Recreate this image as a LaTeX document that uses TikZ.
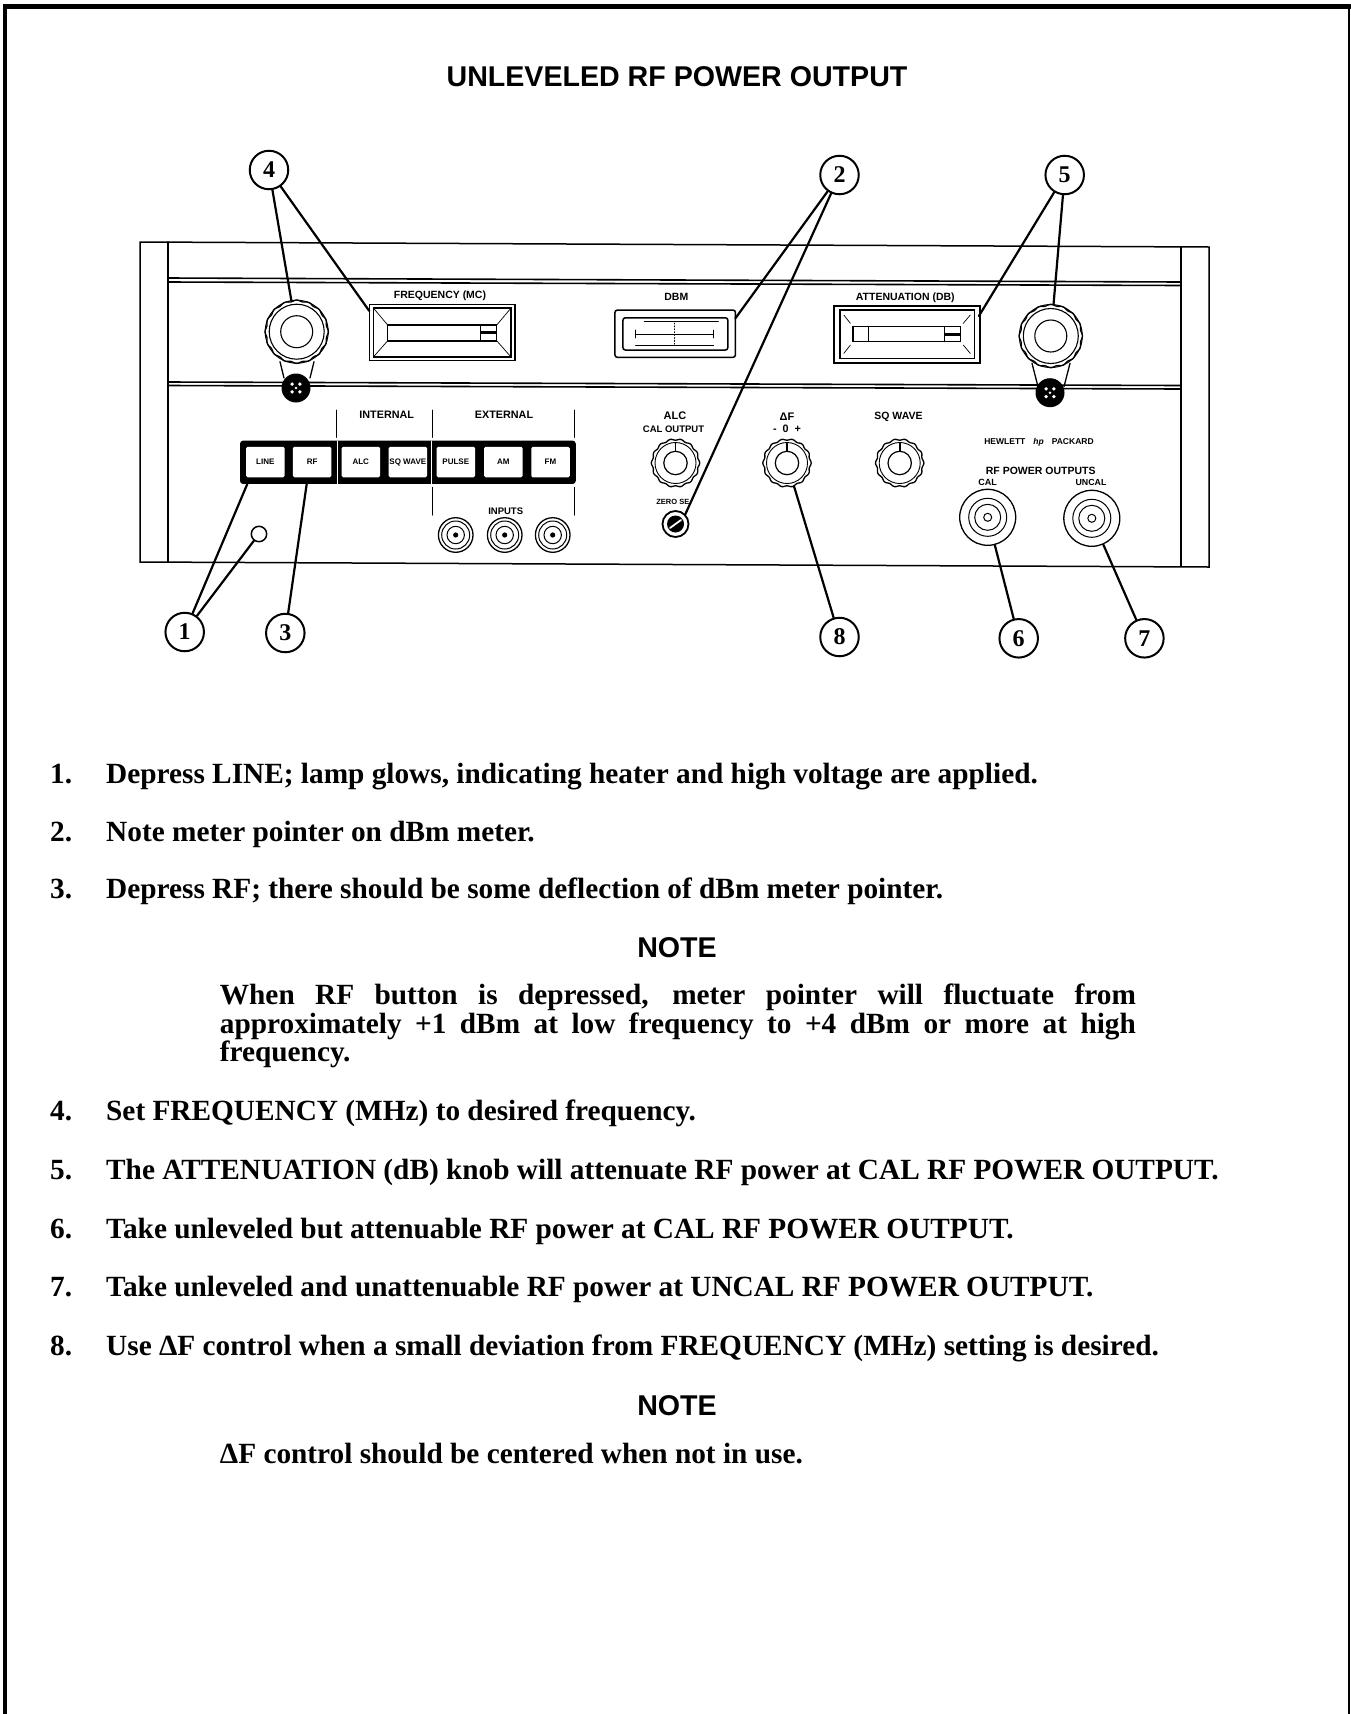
\documentclass[tikz,border=0pt]{standalone}
\usepackage{fontspec}
\setmainfont{Liberation Serif}
\setsansfont{Liberation Sans}
\usetikzlibrary{calc}
\newcommand{\knurl}[4]{\draw[line width=1.3pt] plot[domain=0:357,samples=120,smooth cycle]
  ({#1+(#3+0.7*cos(#4*\x))*cos(\x)},{#2+(#3+0.7*cos(#4*\x))*sin(\x)});}
\newcommand{\lockscrew}[2]{\fill (#1,#2) circle (14.5);
  \foreach \a in {45,135,225,315} \fill[white] (#1,#2) ++(\a:5.5) circle (1.9);
  \fill[white] (#1,#2) circle (1.4);}
\newcommand{\lab}[1]{\sffamily\bfseries\fontsize{#1}{#1}\selectfont}
\tikzset{
  callout/.style={circle, draw, line width=2pt, minimum size=38.5pt, inner sep=0pt, font=\bfseries\fontsize{24}{24}\selectfont},
  leader/.style={line width=2.2pt},
  railline/.style={line width=1.6pt},
  panellabel/.style={inner sep=0pt, font=\lab{10.5}},
  smalllabel/.style={inner sep=0pt, font=\lab{10.8}},
  meterbox/.style={draw, line width=1.5pt, outer sep=0pt, inner sep=0pt},
  pushbtn/.style={fill=white, rounded corners=1.5pt, minimum width=38.5pt, minimum height=30.5pt, inner sep=0pt, font=\lab{8}},
  jack/.style={circle, draw, line width=1.3pt, inner sep=0pt, fill=white},
  stepnum/.style={anchor=base west, inner sep=0pt, font=\bfseries\fontsize{29.3}{29}\selectfont},
  steptext/.style={anchor=base west, inner sep=0pt, font=\bfseries\fontsize{29.3}{29}\selectfont},
  notehead/.style={anchor=base, inner sep=0pt, font=\lab{28.6}}
}
\begin{document}
\begin{tikzpicture}[x=1pt, y=-1pt, line cap=round]
  \useasboundingbox (0,0) rectangle (1350,1714);
  \draw[line width=4.5pt] (5,1714) -- (5,6.5) -- (1350,6.5);
  \draw[line width=1.2pt] (1349,6.5) -- (1349,1714);
  \node[notehead] (title) at (677,86) {UNLEVELED RF POWER OUTPUT};

  % front panel
  \draw[line width=1.5pt] (140,242) -- (1209,247) -- (1209,567) -- (140,562) -- cycle;
  \draw[line width=1.2pt] (168,242) -- (168,562);
  \draw[line width=1.2pt] (1181,247) -- (1181,566);
  \draw[railline] (168,278) -- (1181,282);
  \draw[railline] (168,282) -- (1181,285.5);
  \draw[railline] (168,382) -- (1181,385.5);
  \draw[railline] (168,385.5) -- (1181,389);

  % frequency and attenuation windows
  \node[meterbox, minimum width=145.7pt, minimum height=56pt] (freqouter) at (442.2,332.7) {};
  \node[meterbox, minimum width=137.7pt, minimum height=49pt] (freqinner) at (442.2,332.5) {};
  \node[meterbox, minimum width=109pt, minimum height=15.7pt] (freqwin) at (442.2,332.9) {};
  \foreach \c in {north west, north east, south west, south east}
    \draw[line width=0.7pt] (freqinner.\c) -- (freqwin.\c);
  \draw[line width=1pt] (480,325) -- (480,340.7);
  \fill (480,331) rectangle (496.7,334);
  \node[panellabel] (freqlabel) at (440,295.5) {FREQUENCY (MC)};

  \node[meterbox, minimum width=145.7pt, minimum height=56.7pt] (attouter) at (906.9,334.4) {};
  \node[meterbox, minimum width=134.6pt, minimum height=48.3pt] (attinner) at (907.2,334.2) {};
  \node[meterbox, minimum width=107.4pt, minimum height=15pt] (attwin) at (906.7,334.2) {};
  \foreach \c in {north west, north east, south west, south east}
    \draw[line width=0.7pt] ($(attinner.\c)!.3!(attwin.\c)$) -- ($(attinner.\c)!.8!(attwin.\c)$);
  \draw[line width=1pt] (868.4,326.7) -- (868.4,341.7);
  \draw[line width=1pt] (944.3,326.7) -- (944.3,341.7);
  \fill (944.3,332.5) rectangle (960.4,335.5);
  \node[panellabel] (attlabel) at (905.3,297.3) {ATTENUATION (DB)};

  % dBm meter
  \node[meterbox, rounded corners=2.5pt, minimum width=120.5pt, minimum height=47.3pt] (dbmouter) at (675.2,333.7) {};
  \node[meterbox, rounded corners=2.5pt, minimum width=104.9pt, minimum height=32.3pt] (dbminner) at (675.4,333.9) {};
  \draw[line width=0.9pt] (635.4,334) -- (713.7,334);
  \draw[line width=0.9pt] (635.4,330) -- (635.4,338) (713.7,330) -- (713.7,338);
  \draw[line width=0.5pt] (644,321.7) -- (718.5,321.7) (635.4,345) -- (713.7,345);
  \draw[line width=0.9pt, dotted] (674.3,323) -- (674.3,346);
  \node[panellabel] (dbmlabel) at (676.3,296.7) {DBM};

  % large knobs with their locks
  \draw[line width=1.3pt] (280,361.7) -- (284,378) (314,361.7) -- (310,378);
  \lockscrew{296}{388}
  \node[circle, draw, line width=1pt, fill=white, minimum size=63pt, inner sep=0pt] (knobfreq) at (296.7,331.7) {};
  \knurl{296.7}{331.7}{31}{16}
  \draw[line width=1.1pt] (296.7,331.7) circle (27.5) (296.7,331.7) circle (16);

  \draw[line width=1.3pt] (1032,363.3) -- (1038,386.7) (1070,363.3) -- (1064,386.7);
  \lockscrew{1050}{392.7}
  \node[circle, draw, line width=1pt, fill=white, minimum size=63pt, inner sep=0pt] (knobatt) at (1050.8,336) {};
  \knurl{1050.8}{336}{31}{16}
  \draw[line width=1.1pt] (1050.8,336) circle (27.5) (1050.8,336) circle (16);

  % button strip
  \node[fill=black, rounded corners=3pt, minimum width=335.7pt, minimum height=43.3pt, inner sep=0pt] (strip) at (407.9,462.3) {};
  \foreach \bx/\nm/\txt in {265.3/btnline/LINE, 312.2/btnrf/RF, 360.8/btnalc/ALC, 407.8/btnsq/SQ WAVE, 455.8/btnpulse/PULSE, 503.3/btnam/AM, 550.5/btnfm/FM}
    \node[pushbtn] (\nm) at (\bx,462) {\txt};
  \draw[white, line width=0.9pt] (337.5,441) -- (337.5,484) (431.5,441) -- (431.5,484);
  \foreach \bx in {336,432,574.3}
    \draw[line width=1pt] (\bx,410) -- (\bx,437.3);
  \foreach \bx in {432,574}
    \draw[line width=1pt] (\bx,487.3) -- (\bx,515);
  \node[smalllabel] (internal) at (386.7,414.5) {INTERNAL};
  \node[smalllabel] (external) at (504,415) {EXTERNAL};
  \node[smalllabel, font=\lab{9.5}] (inputs) at (505.7,511) {INPUTS};

  % input jacks and lamp
  \foreach \jx/\nm in {455.7/jacka, 504.7/jackb, 552.7/jackc} {
    \node[jack, minimum size=34.6pt] (\nm) at (\jx,535) {};
    \draw[line width=1pt] (\jx,535) circle (14) (\jx,535) circle (8.7);
    \fill (\jx,535) circle (2.6);
  }
  \node[jack, line width=1.5pt, minimum size=15.4pt] (lamp) at (259,534) {};

  % small knobs
  \foreach \kx/\nm in {675.5/knobalc, 787/knobdf, 899.7/knobsq} {
    \node[circle, minimum size=48pt, inner sep=0pt] (\nm) at (\kx,463) {};
    \knurl{\kx}{463}{23.5}{14}
    \draw[line width=0.9pt] (\kx,463) circle (20.5);
    \draw[line width=1.2pt] (\kx,463) circle (11.7);
    \draw[line width=1.8pt] (\kx,443.5) -- (\kx,451);
  }
  \node[smalllabel, font=\lab{11}] (alclabel) at (675,415.7) {ALC};
  \node[smalllabel, font=\lab{9.5}] (caloutput) at (673.5,429) {CAL OUTPUT};
  \node[smalllabel, font=\lab{11}] (dflabel) at (787,416.7) {ΔF};
  \node[smalllabel] (dfscale) at (787,429) {-\ \ 0\ \ +};
  \node[smalllabel, font=\lab{10.5}] (sqlabel) at (898.5,416.7) {SQ WAVE};
  \node[smalllabel, font=\lab{7.5}] (zerolabel) at (672.8,501.7) {ZERO SE};

  \node[circle, draw, line width=1.8pt, fill=white, minimum size=26pt, inner sep=0pt] (zeroset) at (675.5,524) {};
  \fill (675.5,524) circle (8.5);
  \draw[white, line width=1.8pt] (670,528) -- (681,520);

  % output connectors
  \node[smalllabel, font=\lab{8.5}] (hplabel) at (1039,442.7) {HEWLETT\hspace{8pt}\textit{hp}\hspace{8pt}PACKARD};
  \node[smalllabel, font=\lab{10.5}] (rfout) at (1040.7,471) {RF POWER OUTPUTS};
  \node[smalllabel, font=\lab{9}] (callabel) at (987.7,482.7) {CAL};
  \node[smalllabel, font=\lab{8.8}] (uncallabel) at (1091,482.7) {UNCAL};
  \foreach \ox/\oy/\nm in {987.7/517.3/outcal, 1091.8/518.3/outuncal} {
    \node[jack, minimum size=56pt] (\nm) at (\ox,\oy) {};
    \draw[line width=1pt] (\ox,\oy) circle (19) (\ox,\oy) circle (13) (\ox,\oy) circle (4);
  }

  % callouts
  \node[callout] (c4) at (269,170) {4};
  \node[callout] (c2) at (839.5,175) {2};
  \node[callout] (c5) at (1064.7,175) {5};
  \node[callout] (c1) at (184.7,632) {1};
  \node[callout] (c3) at (285.3,633) {3};
  \node[callout] (c8) at (839.5,637) {8};
  \node[callout] (c6) at (1018.7,638.3) {6};
  \node[callout] (c7) at (1144.4,638.3) {7};
  \coordinate (freqend) at (369.3,311);
  \coordinate (dbmend) at (735.4,318.3);
  \coordinate (attend) at (978.9,316);
  \coordinate (lineend) at (247.3,484);
  \coordinate (rfend) at (306.7,484);
  \draw[leader] (c4) -- (knobfreq);
  \draw[leader] (c4) -- (freqend);
  \draw[leader] (c2) -- (dbmend);
  \draw[leader] (c2) -- (zeroset.north east);
  \draw[leader] (c5) -- (attend);
  \draw[leader] (c5) -- (knobatt);
  \draw[leader] (c1) -- (lineend);
  \draw[leader] (c1) -- (lamp);
  \draw[leader] (c3) -- (rfend);
  \draw[leader] (c8) -- (knobdf);
  \draw[leader] (c6) -- (outcal);
  \draw[leader] (c7) -- (outuncal);

  % steps
  \foreach \n/\y/\txt in {
    1/783.5/{Depress LINE; lamp glows, indicating heater and high voltage are applied.},
    2/841.2/{Note meter pointer on dBm meter.},
    3/898.7/{Depress RF; there should be some deflection of dBm meter pointer.},
    4/1120.9/{Set FREQUENCY (MHz) to desired frequency.},
    5/1179.9/{The ATTENUATION (dB) knob will attenuate RF power at CAL RF POWER OUTPUT.},
    6/1238.9/{Take unleveled but attenuable RF power at CAL RF POWER OUTPUT.},
    7/1296.9/{Take unleveled and unattenuable RF power at UNCAL RF POWER OUTPUT.},
    8/1355.9/{Use ΔF control when a small deviation from FREQUENCY (MHz) setting is desired.}} {
    \node[stepnum] (num\n) at (50,\y) {\n.};
    \node[steptext] (step\n) at (106,\y) {\txt};
  }
  \node[notehead] (notea) at (677,957) {NOTE};
  \node[steptext, text width=916pt, align=justify, font=\bfseries\fontsize{29.3}{28.6}\selectfont] (notetexta) at (219.7,1004.5)
    {When RF button is depressed, meter pointer will fluctuate from\linebreak approximately +1 dBm at low frequency to +4 dBm or more at high\linebreak frequency.};
  \node[notehead] (noteb) at (677,1415) {NOTE};
  \node[steptext] (notetextb) at (219.7,1463) {ΔF control should be centered when not in use.};
\end{tikzpicture}
\end{document}
